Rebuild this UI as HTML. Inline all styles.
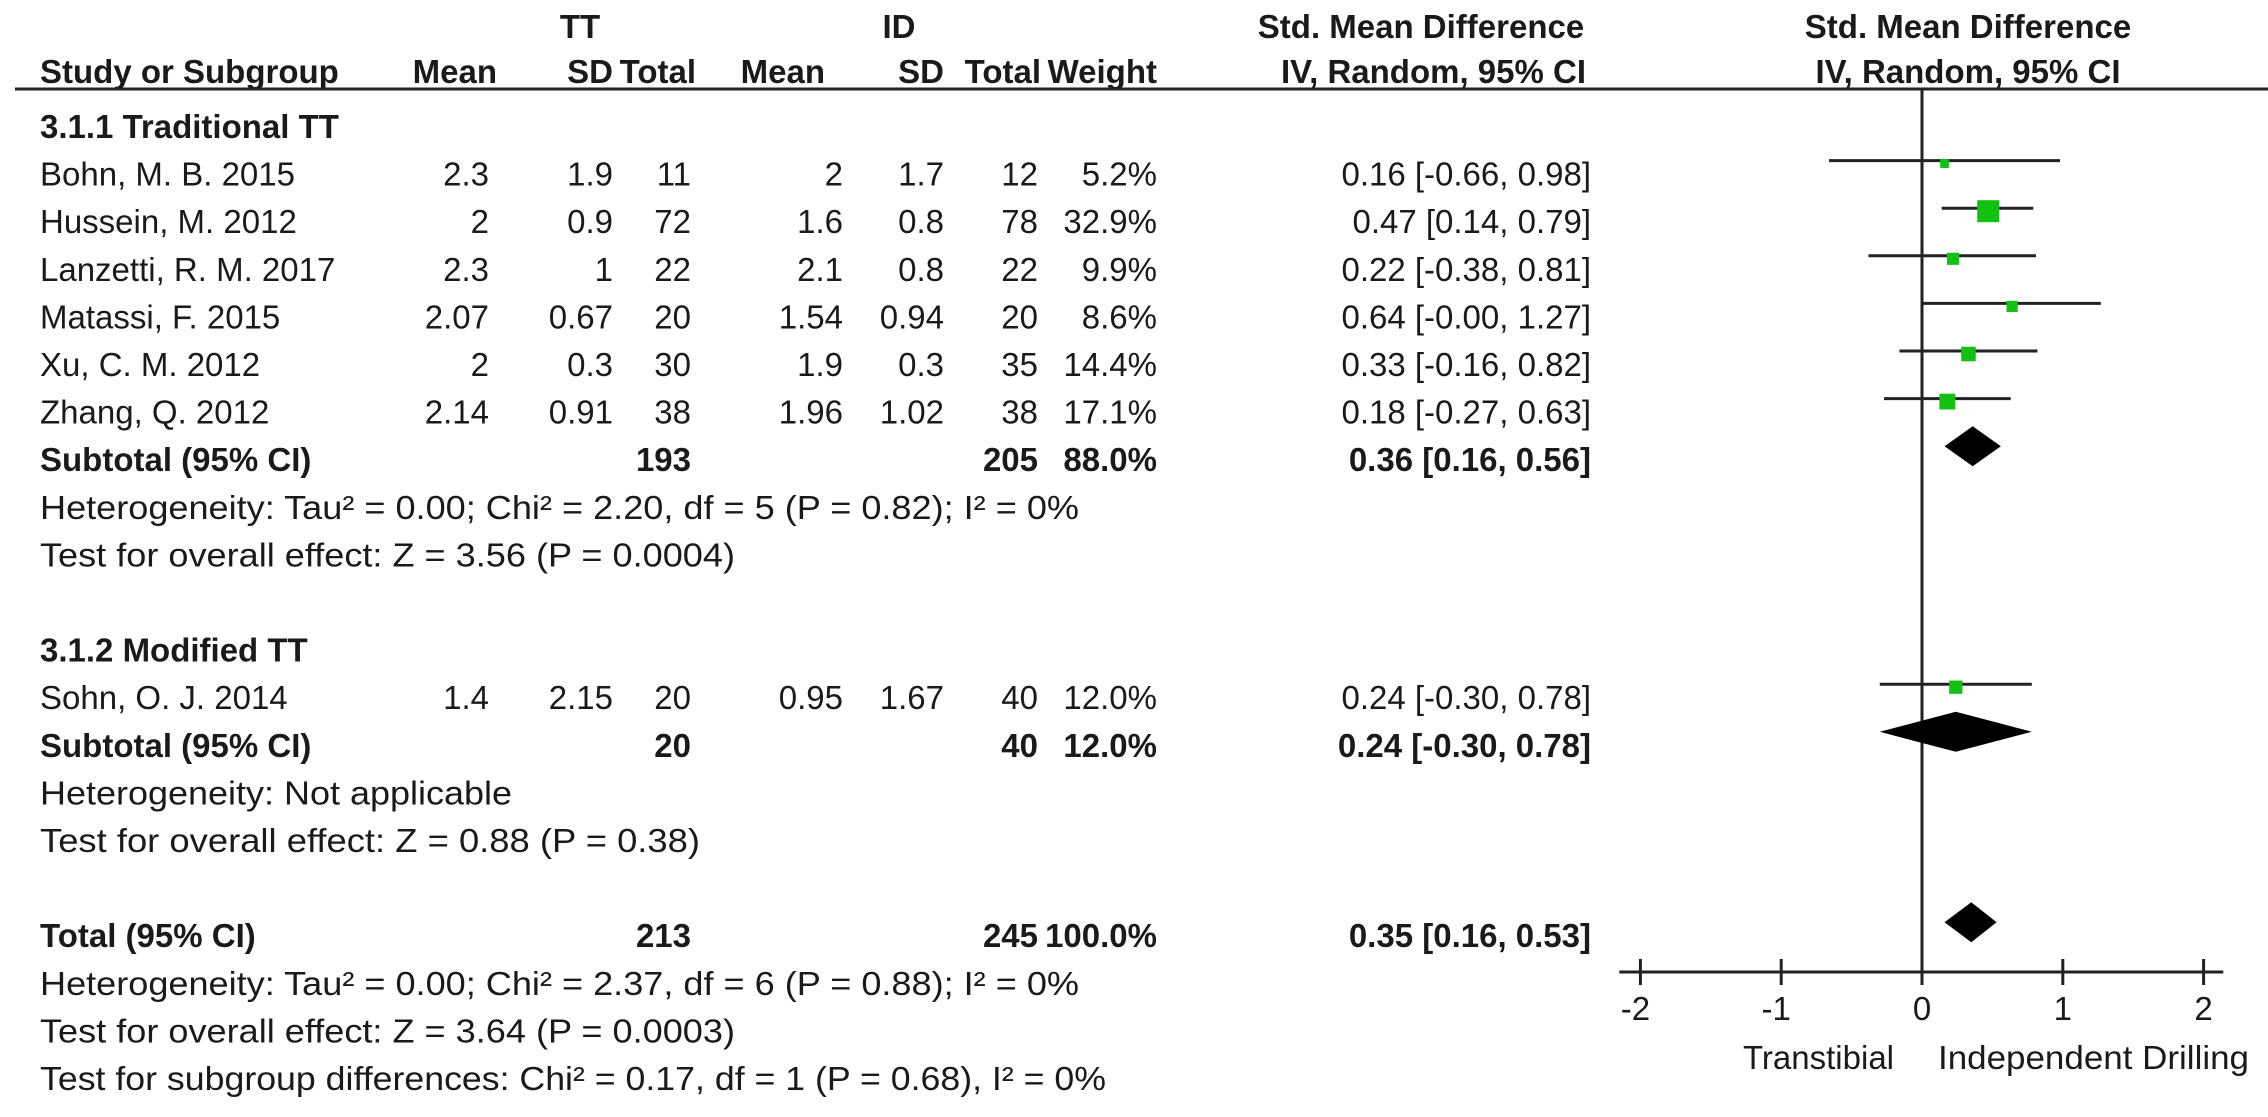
<!DOCTYPE html>
<html><head><meta charset="utf-8"><style>
html,body{margin:0;padding:0;background:#fff;}
svg{display:block;font-family:"Liberation Sans",Arial,sans-serif;}
text{font-size:33px;fill:#1a1a1a;}
.b{font-weight:bold;}
</style></head><body>
<svg id="forest" width="2268" height="1117" viewBox="0 0 2268 1117" xmlns="http://www.w3.org/2000/svg">
<g id="table"></g>
<g id="plot"></g>
</svg>
<script>
// ---- data ----
const studies = ["Bohn, M. B. 2015","Hussein, M. 2012","Lanzetti, R. M. 2017","Matassi, F. 2015","Xu, C. M. 2012","Zhang, Q. 2012","Sohn, O. J. 2014"];
const ttMean = ["2.3","2","2.3","2.07","2","2.14","1.4"];
const ttSD = ["1.9","0.9","1","0.67","0.3","0.91","2.15"];
const ttN = [11,72,22,20,30,38,20];
const idMean = ["2","1.6","2.1","1.54","1.9","1.96","0.95"];
const idSD = ["1.7","0.8","0.8","0.94","0.3","1.02","1.67"];
const idN = [12,78,22,20,35,38,40];
const weights = [5.2,32.9,9.9,8.6,14.4,17.1,12.0];
const smd = [0.16,0.47,0.22,0.64,0.33,0.18,0.24];
const ciLo = [-0.66,0.14,-0.38,-0.00,-0.16,-0.27,-0.30];
const ciHi = [0.98,0.79,0.81,1.27,0.82,0.63,0.78];
const studyRows = [1,2,3,4,5,6,12];
const pooledLabels = ["subtotal-1","subtotal-2","total"];
const pooledEst = [0.36,0.24,0.35];
const pooledLo = [0.16,-0.30,0.16];
const pooledHi = [0.56,0.78,0.53];
const pooledRows = [7,13,17];
const xTicks = [-2,-1,0,1,2];

// ---- layout ----
const NS="http://www.w3.org/2000/svg";
const baseY = r => 138 + r*47.6;
const markY = r => baseY(r) - 25;
const xs = v => 1922 + v*140.8;
const table = document.getElementById('table');
const plot = document.getElementById('plot');
function mk(tag, parent, attrs){const e=document.createElementNS(NS,tag);for(const k in attrs)e.setAttribute(k,attrs[k]);parent.appendChild(e);return e;}
function txt(parent, s, x, y, anchor, bold, name, len){
  const t=mk('text',parent,{x:x,y:y,'text-anchor':anchor});
  if(bold)t.setAttribute('class','b');
  if(len){t.setAttribute('textLength',len);t.setAttribute('lengthAdjust','spacingAndGlyphs');}
  t.textContent=s;
  
  
  return t;
}
const C={tm:489,ts:613,tn:691,im:843,is:944,in:1038,w:1157,ci:1591};
// headers
txt(table,"TT",580,38,'middle',true,'tt-group-header');
txt(table,"ID",899,38,'middle',true,'id-group-header');
txt(table,"Std. Mean Difference",1421,38,'middle',true,'smd-header');
txt(table,"Std. Mean Difference",1968,38,'middle',true,'plot-smd-header');
txt(table,"Study or Subgroup",40,83,'start',true,'study-header');
txt(table,"Mean",C.tm+8,83,'end',true,'tt-mean-header');
txt(table,"SD",C.ts,83,'end',true,'tt-sd-header');
txt(table,"Total",C.tn+5,83,'end',true,'tt-total-header');
txt(table,"Mean",C.im-18,83,'end',true,'id-mean-header');
txt(table,"SD",C.is,83,'end',true,'id-sd-header');
txt(table,"Total",C.in+3,83,'end',true,'id-total-header');
txt(table,"Weight",C.w,83,'end',true,'weight-header');
txt(table,"IV, Random, 95% CI",1586,83,'end',true,'ci-header');
txt(table,"IV, Random, 95% CI",1968,83,'middle',true,'plot-ci-header');
const hl=mk('line',table,{x1:15,y1:89,x2:2268,y2:89,stroke:'#222','stroke-width':3});


txt(table,"3.1.1 Traditional TT",40,baseY(0),'start',true,'subgroup-1-title');
txt(table,"3.1.2 Modified TT",40,baseY(11),'start',true,'subgroup-2-title');
for(let i=0;i<studies.length;i++){
  const y=baseY(studyRows[i]);
  txt(table,studies[i],40,y,'start',false,'study-name');
  txt(table,ttMean[i],C.tm,y,'end',false,'tt-mean');
  txt(table,ttSD[i],C.ts,y,'end',false,'tt-sd');
  txt(table,String(ttN[i]),C.tn,y,'end',false,'tt-total');
  txt(table,idMean[i],C.im,y,'end',false,'id-mean');
  txt(table,idSD[i],C.is,y,'end',false,'id-sd');
  txt(table,String(idN[i]),C.in,y,'end',false,'id-total');
  txt(table,weights[i].toFixed(1)+"%",C.w,y,'end',false,'study-weight');
  txt(table,smd[i].toFixed(2)+" ["+(ciLo[i]===0?"-0.00":ciLo[i].toFixed(2))+", "+ciHi[i].toFixed(2)+"]",C.ci,y,'end',false,'study-ci');
}
const pLab=["Subtotal (95% CI)","Subtotal (95% CI)","Total (95% CI)"];
const pTT=[193,20,213], pID=[205,40,245], pW=["88.0%","12.0%","100.0%"];
for(let j=0;j<3;j++){
  const y=baseY(pooledRows[j]);
  txt(table,pLab[j],40,y,'start',true,pooledLabels[j]+'-label');
  txt(table,String(pTT[j]),C.tn,y,'end',true,pooledLabels[j]+'-tt-total');
  txt(table,String(pID[j]),C.in,y,'end',true,pooledLabels[j]+'-id-total');
  txt(table,pW[j],C.w,y,'end',true,pooledLabels[j]+'-weight');
  txt(table,pooledEst[j].toFixed(2)+" ["+pooledLo[j].toFixed(2)+", "+pooledHi[j].toFixed(2)+"]",C.ci,y,'end',true,pooledLabels[j]+'-ci');
}
txt(table,"Heterogeneity: Tau² = 0.00; Chi² = 2.20, df = 5 (P = 0.82); I² = 0%",40,baseY(8),'start',false,'heterogeneity-1',1039);
txt(table,"Test for overall effect: Z = 3.56 (P = 0.0004)",40,baseY(9),'start',false,'overall-effect-1',695);
txt(table,"Heterogeneity: Not applicable",40,baseY(14),'start',false,'heterogeneity-2',472);
txt(table,"Test for overall effect: Z = 0.88 (P = 0.38)",40,baseY(15),'start',false,'overall-effect-2',660);
txt(table,"Heterogeneity: Tau² = 0.00; Chi² = 2.37, df = 6 (P = 0.88); I² = 0%",40,baseY(18),'start',false,'heterogeneity-total',1039);
txt(table,"Test for overall effect: Z = 3.64 (P = 0.0003)",40,baseY(19),'start',false,'overall-effect-total',695);
txt(table,"Test for subgroup differences: Chi² = 0.17, df = 1 (P = 0.68), I² = 0%",40,baseY(20),'start',false,'subgroup-differences',1066);

// ---- plot ----
const axisY=972;
const vl=mk('line',plot,{x1:xs(0),y1:89,x2:xs(0),y2:axisY,stroke:'#222','stroke-width':3});


const ax=mk('line',plot,{x1:xs(-2.15),y1:axisY,x2:xs(2.14),y2:axisY,stroke:'#222','stroke-width':3});


for(const t of xTicks){
  const tk=mk('line',plot,{x1:xs(t),y1:axisY-13,x2:xs(t),y2:axisY+13,stroke:'#222','stroke-width':3});
  
  
  txt(plot,String(t),xs(t)-(t<0?5:0),1020,'middle',false,'x-tick-label');
}
txt(plot,"Transtibial",1894,1069,'end',false,'favours-left-label');
txt(plot,"Independent Drilling",1938,1069,'start',false,'favours-right-label',311);
for(let i=0;i<studies.length;i++){
  const y=markY(studyRows[i]);
  const l=mk('line',plot,{x1:xs(ciLo[i]),y1:y,x2:xs(ciHi[i]),y2:y,stroke:'#222','stroke-width':3});
  
  
  const s=22*Math.sqrt(weights[i]/32.9);
  const r=mk('rect',plot,{x:xs(smd[i])-s/2,y:y+3-s/2,width:s,height:s,fill:'#12c112'});
  
  
}
for(let j=0;j<3;j++){
  const y=markY(pooledRows[j]);
  const pts=[[xs(pooledLo[j]),y],[xs(pooledEst[j]),y-20],[xs(pooledHi[j]),y],[xs(pooledEst[j]),y+20]].map(p=>p.join(',')).join(' ');
  const d=mk('polygon',plot,{points:pts,fill:'#000'});
  
  
}
</script>
</body></html>
